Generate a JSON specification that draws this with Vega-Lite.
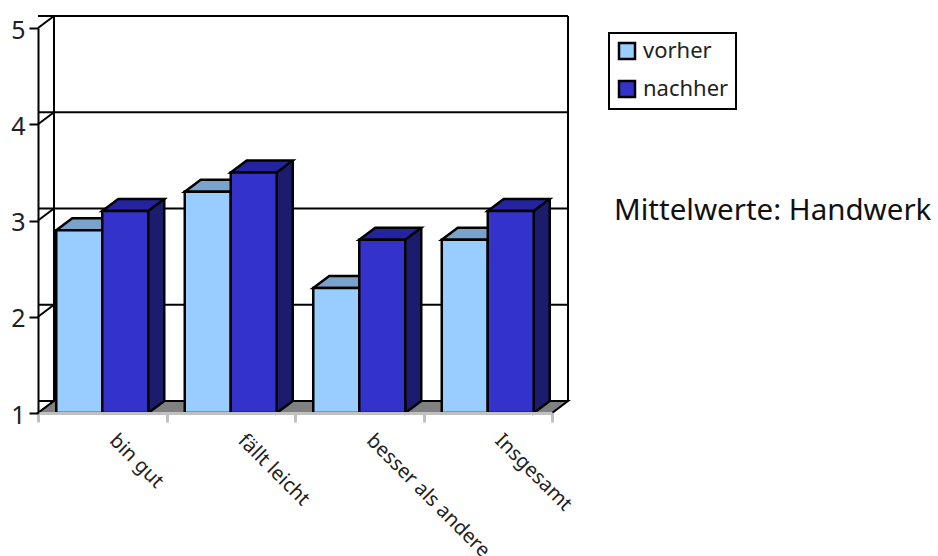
{
"$schema":"https://vega.github.io/schema/vega-lite/v6.json",
"width":514,"height":385,
"autosize":{"type":"none"},
"padding":{"left":38,"top":28,"right":386,"bottom":143},
"background":"white",
"title":{"text":"Mittelwerte: Handwerk","anchor":"start","frame":"group","dx":576,"dy":218,"font":"Noto Sans","fontSize":29.5,"fontWeight":"normal","color":"#111111"},
"config":{"view":{"stroke":null},"font":"Noto Sans","legend":{"strokeWidth":2}},
"data":{"values":[
{"category":"bin gut","series":"vorher","value":2.9},
{"category":"bin gut","series":"nachher","value":3.1},
{"category":"fällt leicht","series":"vorher","value":3.3},
{"category":"fällt leicht","series":"nachher","value":3.5},
{"category":"besser als andere","series":"vorher","value":2.3},
{"category":"besser als andere","series":"nachher","value":2.8},
{"category":"Insgesamt","series":"vorher","value":2.8},
{"category":"Insgesamt","series":"nachher","value":3.1}
]},
"layer":[
{"data":{"values":[{"v":1},{"v":2},{"v":3},{"v":4},{"v":5}]},
 "mark":{"type":"rule","stroke":"black","strokeWidth":2,"xOffset":16,"x2Offset":16,"yOffset":-12},
 "encoding":{"y":{"field":"v","type":"quantitative","scale":{"domain":[1,5],"nice":false},"title":null,
   "axis":{"values":[1,2,3,4,5],"format":"d","grid":false,"domainColor":"black","domainWidth":2,"tickColor":"black","tickWidth":2,"tickSize":9,"labelFont":"Noto Sans","labelFontSize":25,"labelColor":"#222222","labelPadding":4,"labelOffset":2,"zindex":1}}}},
{"data":{"values":[{"v":1},{"v":2},{"v":3},{"v":4},{"v":5}]},
 "mark":{"type":"point","shape":"M0,0L16,-12","size":4,"filled":false,"stroke":"black","strokeWidth":2,"opacity":1},
 "encoding":{"x":{"datum":"bin gut","bandPosition":0},"y":{"field":"v","type":"quantitative"}}},
{"data":{"values":[{"c":"bin gut"}]},
 "mark":{"type":"point","shape":"M16,-12L16,-397","size":4,"filled":false,"stroke":"black","strokeWidth":2,"opacity":1},
 "encoding":{"x":{"datum":"bin gut","bandPosition":0},"y":{"datum":1}}},
{"data":{"values":[{"c":"Insgesamt"}]},
 "mark":{"type":"point","shape":"M16,-12L16,-397","size":4,"filled":false,"stroke":"black","strokeWidth":2,"opacity":1},
 "encoding":{"x":{"datum":"Insgesamt","bandPosition":1},"y":{"datum":1}}},
{"data":{"values":[{"c":"floor"}]},
 "mark":{"type":"point","shape":"M0,0L514,0L530,-12L16,-12Z","size":4,"filled":true,"fill":"#808080","stroke":"black","strokeWidth":2,"opacity":1},
 "encoding":{"x":{"datum":"bin gut","bandPosition":0},"y":{"datum":1}}},
{"transform":[{"filter":"datum.series==='vorher'"}],
 "mark":{"type":"point","shape":"M-23,0L23,0L39,-12L-7,-12Z","size":4,"filled":true,"fill":"#7AA3CC","stroke":"black","strokeWidth":2.5,"opacity":1},
 "encoding":{"x":{"field":"category"},"xOffset":{"field":"series"},"y":{"field":"value","type":"quantitative"}}},
{"transform":[{"filter":"datum.series==='vorher'"}],
 "mark":{"type":"bar","stroke":"black","strokeWidth":2.5},
 "encoding":{
  "x":{"field":"category","type":"nominal","sort":null,"title":null,
   "scale":{"domain":["bin gut","fällt leicht","besser als andere","Insgesamt"],"paddingInner":0,"paddingOuter":0},
   "axis":{"labelAngle":45,"labelAlign":"left","labelBaseline":"middle","labelFont":"Noto Sans","labelFontSize":20,"labelColor":"#222222","labelLimit":400,"labelPadding":15,"labelOffset":10,"domainColor":"#C0C0C0","domainWidth":3,"tickColor":"#C0C0C0","tickWidth":3,"tickSize":9,"tickBand":"extent","zindex":1}},
  "xOffset":{"field":"series","type":"nominal","scale":{"domain":["vorher","nachher"],"paddingInner":0,"paddingOuter":0.397}},
  "y":{"field":"value","type":"quantitative"},
  "y2":{"datum":1},
  "fill":{"field":"series","type":"nominal","scale":{"domain":["vorher","nachher"],"range":["#99CCFF","#3333CC"]},
   "legend":{"title":null,"orient":"none","legendX":571,"legendY":5,"symbolType":"square","symbolSize":256,"symbolStrokeColor":"black","symbolStrokeWidth":2.5,"symbolOpacity":1,"labelFont":"Noto Sans","labelFontSize":22,"labelColor":"#222222","strokeColor":"black","fillColor":"white","padding":7,"rowPadding":12,"labelOffset":5}}}},
{"transform":[{"filter":"datum.series==='nachher'"}],
 "mark":{"type":"rule","stroke":"#1C1C6E","strokeWidth":16,"yOffset":-12,"y2Offset":-12},
 "encoding":{"x":{"field":"category","bandPosition":0.9202},"y":{"field":"value","type":"quantitative"},"y2":{"datum":1}}},
{"transform":[{"filter":"datum.series==='nachher'"}],
 "mark":{"type":"rule","stroke":"black","strokeWidth":2.5,"yOffset":-12,"y2Offset":-12},
 "encoding":{"x":{"field":"category","bandPosition":0.9825},"y":{"field":"value","type":"quantitative"},"y2":{"datum":1}}},
{"transform":[{"filter":"datum.series==='nachher'"}],
 "mark":{"type":"point","shape":"M23,-12L23,0L39,-12","size":4,"filled":true,"fill":"#1C1C6E","stroke":"black","strokeWidth":2.5,"opacity":1},
 "encoding":{"x":{"field":"category"},"xOffset":{"field":"series"},"y":{"datum":1}}},
{"transform":[{"filter":"datum.series==='nachher'"}],
 "mark":{"type":"point","shape":"M-23,0L23,0L39,-12L-7,-12Z","size":4,"filled":true,"fill":"#2424A0","stroke":"black","strokeWidth":2.5,"opacity":1},
 "encoding":{"x":{"field":"category"},"xOffset":{"field":"series"},"y":{"field":"value","type":"quantitative"}}},
{"transform":[{"filter":"datum.series==='nachher'"}],
 "mark":{"type":"bar","stroke":"black","strokeWidth":2.5},
 "encoding":{"x":{"field":"category"},"xOffset":{"field":"series"},"y":{"field":"value","type":"quantitative"},"y2":{"datum":1},"fill":{"field":"series","type":"nominal"}}}
]
}
